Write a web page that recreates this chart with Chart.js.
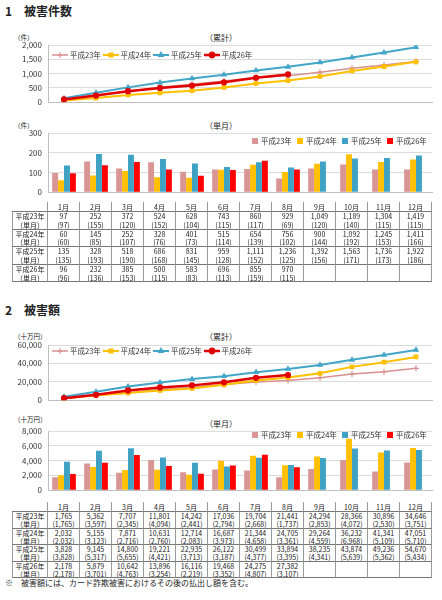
<!DOCTYPE html>
<html lang="ja">
<head>
<meta charset="utf-8">
<script src="https://cdn.jsdelivr.net/npm/chart.js@4.4.1/dist/chart.umd.min.js"></script>
<style>
  body { margin:0; width:442px; height:600px; background:#fff; position:relative; overflow:hidden;
         font-family:"Noto Sans CJK JP", sans-serif; color:#222; }
  .abs { position:absolute; white-space:nowrap; }
  .sec { left:5px; font-size:12px; font-weight:bold; line-height:14px; }
  .unit { left:14px; font-size:6.5px; line-height:8px; }
  .ttl { left:0; width:442px; text-align:center; font-size:8px; line-height:10px; }
  .box { left:0; width:442px; }
  .lg { font-size:7.5px; line-height:9px; color:#333; display:flex; }
  .lg .it { display:flex; align-items:center; }
  .lg.ln .it { width:50.5px; }
  .lg.ln .it canvas { margin-right:2px; }
  .lg.br .it { width:45px; }
  .lg.br .sq { width:6px; height:6px; margin-right:3px; }
  .dt { position:absolute; left:12px; display:grid; font-size:7px; color:#222;
        grid-template-columns: 36px repeat(12, 32px); }
  .dt div { box-sizing:border-box; text-align:center; white-space:nowrap; overflow:hidden;
            border-right:1px solid #9a9a9a; }
  .dt div.c0 { border-left:1px solid #9a9a9a; }
  .dt div.hd { border-bottom:1px solid #777; }
  .dt div.hd.c0 { border-left:none; border-right:1px solid #9a9a9a; }
  .dt div.r2 { border-bottom:1px solid #777; }
  .note { left:5px; top:578px; font-size:8px; line-height:10px; }
</style>
</head>
<body>

<div class="abs sec" style="top:4px;">1　被害件数</div>
<div class="abs unit" style="top:33px;">（件）</div>
<div class="abs ttl" style="top:33px;">（累計）</div>
<div class="abs box" style="top:30px;"><canvas id="cntLine" width="442" height="83"></canvas></div>
<div class="abs lg ln" id="cntLineLegend" style="top:50px; left:52px;"></div>
<div class="abs unit" style="top:121px;">（件）</div>
<div class="abs ttl" style="top:121px;">（単月）</div>
<div class="abs box" style="top:118px;"><canvas id="cntBar" width="442" height="85"></canvas></div>
<div class="abs lg br" id="cntBarLegend" style="top:136px; left:252px;"></div>
<div class="dt" id="cntTable" style="top:202px;"></div>

<div class="abs sec" style="top:303px;">2　被害額</div>
<div class="abs unit" style="top:332px;">（十万円）</div>
<div class="abs ttl" style="top:332px;">（累計）</div>
<div class="abs box" style="top:330px;"><canvas id="amtLine" width="442" height="81"></canvas></div>
<div class="abs lg ln" id="amtLineLegend" style="top:346px; left:52px;"></div>
<div class="abs unit" style="top:415px;">（十万円）</div>
<div class="abs ttl" style="top:419px;">（単月）</div>
<div class="abs box" style="top:416px;"><canvas id="amtBar" width="442" height="85"></canvas></div>
<div class="abs lg br" id="amtBarLegend" style="top:430px; left:252px;"></div>
<div class="dt" id="amtTable" style="top:502px;"></div>

<div class="abs note">※　被害額には、カード詐欺被害におけるその後の払出し額を含む。</div>

<script>
// 月・年ラベル
const months = ['1月','2月','3月','4月','5月','6月','7月','8月','9月','10月','11月','12月'];
const yearLabels = ['平成23年','平成24年','平成25年','平成26年'];

// 被害件数 累計
const cnt23 = [97, 252, 372, 524, 628, 743, 860, 929, 1049, 1189, 1304, 1419];
const cnt24 = [60, 145, 252, 328, 401, 515, 654, 756, 900, 1092, 1245, 1411];
const cnt25 = [135, 328, 518, 686, 831, 959, 1111, 1236, 1392, 1563, 1736, 1922];
const cnt26 = [96, 232, 385, 500, 583, 696, 855, 970];
// 被害件数 単月
const cntM23 = [97, 155, 120, 152, 104, 115, 117, 69, 120, 140, 115, 115];
const cntM24 = [60, 85, 107, 76, 73, 114, 139, 102, 144, 192, 153, 166];
const cntM25 = [135, 193, 190, 168, 145, 128, 152, 125, 156, 171, 173, 186];
const cntM26 = [96, 136, 153, 115, 83, 113, 159, 115];

// 被害額 累計 (十万円)
const amt23 = [1765, 5362, 7707, 11801, 14242, 17036, 19704, 21441, 24294, 28366, 30896, 34646];
const amt24 = [2032, 5155, 7871, 10631, 12714, 16687, 21344, 24705, 29264, 36232, 41341, 47051];
const amt25 = [3828, 9145, 14800, 19221, 22935, 26122, 30499, 33894, 38235, 43874, 49236, 54670];
const amt26 = [2178, 5879, 10642, 13896, 16116, 19468, 24275, 27382];
// 被害額 単月
const amtM23 = [1765, 3597, 2345, 4094, 2441, 2794, 2668, 1737, 2853, 4072, 2530, 3751];
const amtM24 = [2032, 3123, 2716, 2760, 2083, 3973, 4658, 3361, 4559, 6968, 5109, 5710];
const amtM25 = [3828, 5317, 5655, 4421, 3713, 3187, 4377, 3395, 4341, 5639, 5362, 5434];
const amtM26 = [2178, 3701, 4763, 3254, 2219, 3352, 4807, 3107];

const FONT = '"Noto Sans CJK JP", sans-serif';
Chart.defaults.font.family = FONT;
Chart.defaults.color = '#333';

// 系列スタイル
const lineColors = ['#d7918f', '#ffc000', '#43a6c8', '#e00000'];
const barColors  = ['#d99694', '#ffc000', '#3fa2c4', '#ff0000'];
const pointStyles = ['cross', 'rect', 'triangle', 'circle'];
const lineWidths = [1.5, 2, 2, 2.5];

const fmt = v => v.toLocaleString('en-US');

// 凡例アイコン（線＋マーカー）
function legendIcon(i) {
    const c = document.createElement('canvas');
    c.width = 16; c.height = 8;
    const g = c.getContext('2d');
    g.strokeStyle = lineColors[i];
    g.fillStyle = lineColors[i];
    g.lineWidth = lineWidths[i];
    g.beginPath(); g.moveTo(0, 4); g.lineTo(16, 4); g.stroke();
    g.lineWidth = 1.2;
    Chart.helpers.drawPoint(g, { pointStyle: pointStyles[i], radius: 2.8, borderWidth: 1.2, rotation: 0 }, 8, 4);
    return c;
}

// html凡例
function buildLegend(id, kind) {
    const el = document.getElementById(id);
    yearLabels.forEach((y, i) => {
        const it = document.createElement('div');
        it.className = 'it';
        if (kind === 'line') {
            it.appendChild(legendIcon(i));
        } else {
            const sq = document.createElement('span');
            sq.className = 'sq';
            sq.style.background = barColors[i];
            it.appendChild(sq);
        }
        const t = document.createElement('span');
        t.textContent = y;
        it.appendChild(t);
        el.appendChild(it);
    });
}

function scalesFor(yMax, yStep) {
    return {
        x: {
            offset: true,
            grid: { display: false },
            ticks: { display: false },
            border: { color: '#bfbfbf' },
            afterFit: s => { s.height = 0; }
        },
        y: {
            min: 0, max: yMax,
            ticks: { stepSize: yStep, font: { size: 8 }, color: '#333', padding: 6, callback: v => fmt(v) },
            grid: { color: '#dcdcdc', drawTicks: false },
            border: { color: '#bfbfbf' },
            afterFit: s => { s.width = 48; }
        }
    };
}

const baseOptions = (yMax, yStep) => ({
    responsive: false, animation: false,
    layout: { padding: { left: 0, right: 10, top: 15, bottom: 5 } },
    plugins: { tooltip: { enabled: false }, legend: { display: false } },
    scales: scalesFor(yMax, yStep)
});

function lineChart(id, series, yMax, yStep) {
    new Chart(document.getElementById(id), {
        type: 'line',
        data: {
            labels: months,
            datasets: series.map((d, i) => ({
                label: yearLabels[i],
                data: d,
                order: series.length - i, // 後の年を上に描く
                borderColor: lineColors[i],
                backgroundColor: lineColors[i],
                borderWidth: lineWidths[i],
                pointStyle: pointStyles[i],
                pointRadius: i === 0 ? 3 : 2.5,
                pointBorderWidth: 1.2,
                tension: 0
            }))
        },
        options: baseOptions(yMax, yStep)
    });
}

function barChart(id, series, yMax, yStep) {
    new Chart(document.getElementById(id), {
        type: 'bar',
        data: {
            labels: months,
            datasets: series.map((d, i) => ({
                label: yearLabels[i],
                data: d,
                backgroundColor: barColors[i],
                categoryPercentage: 0.74,
                barPercentage: 1.0
            }))
        },
        options: baseOptions(yMax, yStep)
    });
}

function buildTable(id, totals, monthly, rowH) { // 下のデータ表
    const el = document.getElementById(id);
    el.style.gridTemplateRows = `10px repeat(8, ${rowH}px)`;
    el.style.lineHeight = rowH + 'px';
    let h = '<div class="hd c0"></div>' + months.map(m => `<div class="hd" style="line-height:10px">${m}</div>`).join('');
    yearLabels.forEach((y, i) => {
        h += `<div class="r1 c0">${y}</div>` +
            months.map((_, j) => `<div class="r1">${totals[i][j] == null ? '' : fmt(totals[i][j])}</div>`).join('');
        h += `<div class="r2 c0">（単月）</div>` +
            months.map((_, j) => `<div class="r2">${monthly[i][j] == null ? '' : '(' + fmt(monthly[i][j]) + ')'}</div>`).join('');
    });
    el.innerHTML = h;
}

lineChart('cntLine', [cnt23, cnt24, cnt25, cnt26], 2000, 500);
barChart('cntBar', [cntM23, cntM24, cntM25, cntM26], 300, 100);
buildLegend('cntLineLegend', 'line');
buildLegend('cntBarLegend', 'bar');
buildTable('cntTable', [cnt23, cnt24, cnt25, cnt26], [cntM23, cntM24, cntM25, cntM26], 8.8);

lineChart('amtLine', [amt23, amt24, amt25, amt26], 60000, 20000);
barChart('amtBar', [amtM23, amtM24, amtM25, amtM26], 8000, 2000);
buildLegend('amtLineLegend', 'line');
buildLegend('amtBarLegend', 'bar');
buildTable('amtTable', [amt23, amt24, amt25, amt26], [amtM23, amtM24, amtM25, amtM26], 8.3);
</script>
</body>
</html>
